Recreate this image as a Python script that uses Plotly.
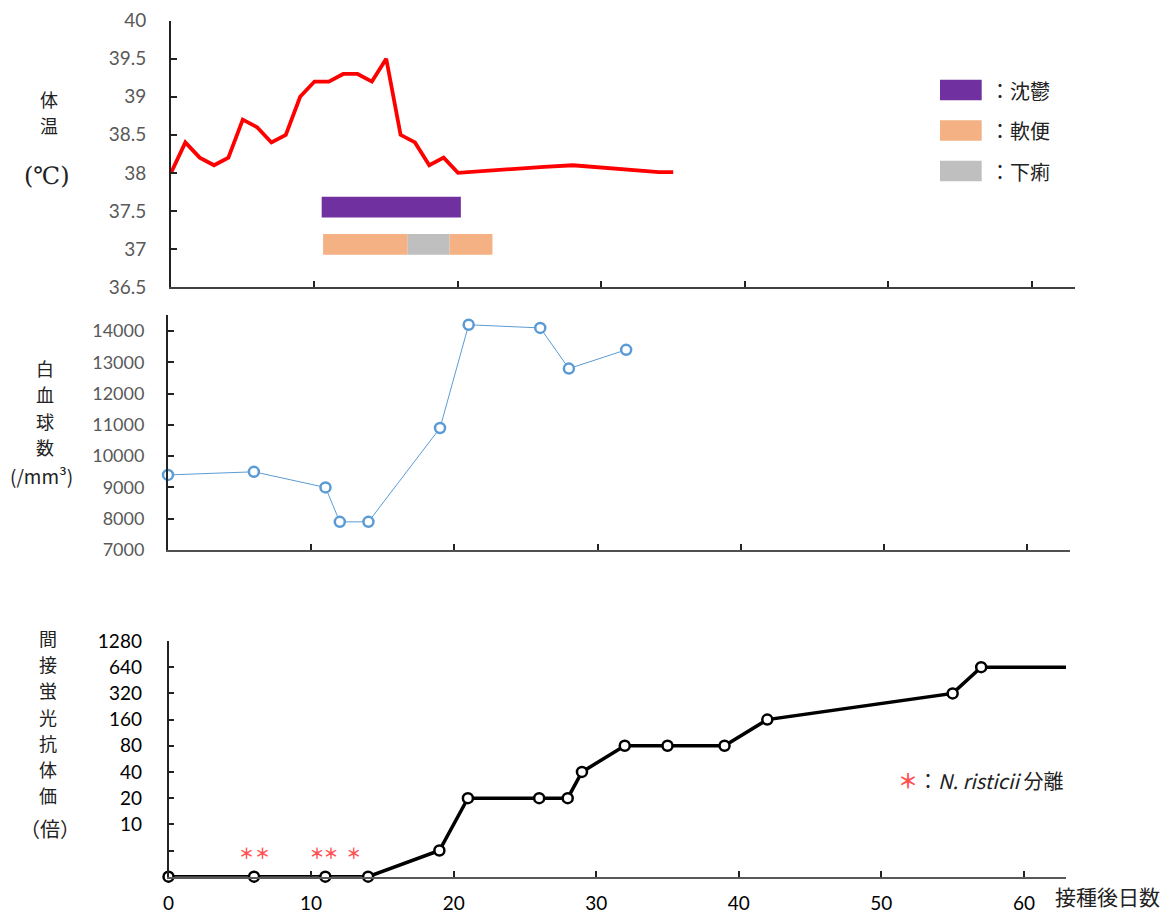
import plotly.graph_objects as go

OFFSET = 8                     # page margin the browser puts around the figure
W, H = 1170 - OFFSET, 915 - OFFSET

# ---------------- data ----------------
temp_days = [0, 1, 2, 3, 4, 5, 6, 7, 8, 9, 10, 11, 12, 13, 14, 15, 16, 17, 18, 19, 20,
             22, 24, 26, 28, 30, 32, 34, 35]
temp_values = [38.0, 38.4, 38.2, 38.1, 38.2, 38.7, 38.6, 38.4, 38.5, 39.0, 39.2, 39.2, 39.3, 39.3,
               39.2, 39.5, 38.5, 38.4, 38.1, 38.2, 38.0,
               38.03, 38.05, 38.08, 38.1, 38.07, 38.04, 38.01, 38.01]

depression_start = [10.5]
depression_end = [20.2]
soft_stool_start = [10.6, 19.4]
soft_stool_end = [16.5, 22.4]
diarrhea_start = [16.5]
diarrhea_end = [19.4]
symptom_level_depression = 37.55
symptom_level_stool = 37.06

wbc_days = [0, 6, 11, 12, 14, 19, 21, 26, 28, 32]
wbc_values = [9400, 9500, 9000, 7900, 7900, 10900, 14200, 14100, 12800, 13400]

ifa_days = [0, 6, 11, 14, 19, 21, 26, 28, 29, 32, 35, 39, 42, 55, 57, 63]
ifa_titers = [2.5, 2.5, 2.5, 2.5, 5, 20, 20, 20, 40, 80, 80, 80, 160, 320, 640, 640]  # 2.5 = negative
ifa_tick_values = [5, 10, 20, 40, 80, 160, 320, 640, 1280]
ifa_tick_labels = ["", "10", "20", "40", "80", "160", "320", "640", "1280"]

isolation_days = [5.48, 6.6, 10.42, 11.4, 13.0]
isolation_mark_level = 4.4

temp_ticks = [36.5, 37, 37.5, 38, 38.5, 39, 39.5, 40]
temp_tick_labels = ["36.5", "37", "37.5", "38", "38.5", "39", "39.5", "40"]
wbc_ticks = [7000, 8000, 9000, 10000, 11000, 12000, 13000, 14000]
wbc_tick_labels = ["7000", "8000", "9000", "10000", "11000", "12000", "13000", "14000"]
day_ticks = [0, 10, 20, 30, 40, 50, 60]
day_tick_labels = ["0", "10", "20", "30", "40", "50", "60"]

# ---------------- styling ----------------
PURPLE = "#7030A0"
ORANGE = "#F4B183"
GRAY = "#BFBFBF"
RED = "#FF0000"
BLUE = "#5B9BD5"
AST = "#FF5050"
NUM_FONT = "Lato, Liberation Sans, sans-serif"
JP_FONT = "Noto Sans CJK JP, Noto Sans, sans-serif"


def px_x(p):
    return (p - OFFSET) / W


def px_y(p):
    return 1 - (p - OFFSET) / H


fig = go.Figure()


def add_bars(starts, ends, level, color, name):
    fig.add_trace(go.Bar(
        orientation="h", y=[level] * len(starts),
        x=[e - s for s, e in zip(starts, ends)], base=starts,
        width=0.272, marker=dict(color=color, line=dict(width=0)),
        xaxis="x", yaxis="y", name=name, showlegend=False, hoverinfo="skip"))


add_bars(depression_start, depression_end, symptom_level_depression, PURPLE, "沈鬱")
add_bars(soft_stool_start, soft_stool_end, symptom_level_stool, ORANGE, "軟便")
add_bars(diarrhea_start, diarrhea_end, symptom_level_stool, GRAY, "下痢")

fig.add_trace(go.Scatter(
    x=temp_days, y=temp_values, mode="lines",
    line=dict(color=RED, width=3.8), xaxis="x", yaxis="y",
    showlegend=False, cliponaxis=False))

fig.add_trace(go.Scatter(
    x=wbc_days, y=wbc_values, mode="lines+markers",
    line=dict(color=BLUE, width=1),
    marker=dict(symbol="circle", size=10, color="white", line=dict(color=BLUE, width=2.5)),
    xaxis="x2", yaxis="y2", showlegend=False, cliponaxis=False))

fig.add_trace(go.Scatter(
    x=ifa_days, y=ifa_titers, mode="lines+markers",
    line=dict(color="black", width=3.5),
    marker=dict(symbol="circle", size=10, color="white", line=dict(color="black", width=2.5)),
    xaxis="x3", yaxis="y3", showlegend=False, cliponaxis=False))

fig.add_trace(go.Scatter(
    x=isolation_days, y=[isolation_mark_level] * len(isolation_days), mode="text",
    text=["<b>＊</b>"] * len(isolation_days), textposition="middle center",
    textfont=dict(color=AST, size=15, family=JP_FONT),
    xaxis="x3", yaxis="y3", showlegend=False, cliponaxis=False))

common_x = dict(showgrid=False, zeroline=False, showline=True, ticks="inside", automargin=False,
                tickvals=day_ticks, ticktext=day_tick_labels,
                ticklen=6, tickwidth=1.5, tickcolor="#222")
common_y = dict(showgrid=False, zeroline=False, showline=True, automargin=False,
                ticks="inside", ticklen=6, tickwidth=1.5, tickcolor="#222")

fig.update_layout(
    width=W, height=H, margin=dict(l=0, r=0, t=0, b=0, autoexpand=False),
    paper_bgcolor="white", plot_bgcolor="white", barmode="overlay",
    xaxis=dict(domain=[px_x(171), px_x(1075)], range=[0, 63.0], anchor="y",
               showticklabels=False, linecolor="#404040", linewidth=2, **common_x),
    yaxis=dict(domain=[px_y(287), px_y(20.7)], range=[36.5, 40], anchor="x",
               linecolor="#222", linewidth=2,
               tickvals=temp_ticks, ticktext=temp_tick_labels,
               tickfont=dict(family=NUM_FONT, size=19, color="#595959"), ticklabelstandoff=19,
               **common_y),
    xaxis2=dict(domain=[px_x(168), px_x(1070)], range=[0, 63.0], anchor="y2",
                showticklabels=False, linecolor="#505050", linewidth=2, **common_x),
    yaxis2=dict(domain=[px_y(550), px_y(315.4)], range=[7000, 14500], anchor="x2",
                linecolor="#222", linewidth=2,
                tickvals=wbc_ticks, ticktext=wbc_tick_labels,
                tickfont=dict(family=NUM_FONT, size=18, color="#595959"), ticklabelstandoff=18,
                **common_y),
    xaxis3=dict(domain=[px_x(168.5), px_x(1066)], range=[0, 62.95], anchor="y3",
                showticklabels=True, linecolor="#595959", linewidth=1.5,
                tickfont=dict(family=NUM_FONT, size=19, color="black"), ticklabelstandoff=9,
                **common_x),
    yaxis3=dict(domain=[px_y(876.7), px_y(641)], type="log",
                range=[0.39794, 3.10721], anchor="x3",
                linecolor="#222", linewidth=1.5,
                tickvals=ifa_tick_values, ticktext=ifa_tick_labels,
                tickfont=dict(family=NUM_FONT, size=19, color="black"), ticklabelstandoff=21,
                **common_y),
)

annotations = []


def add_text(text, x, y, size, color="#222", family=JP_FONT, xanchor="center"):
    annotations.append(dict(text=text, x=px_x(x), y=px_y(y), xref="paper", yref="paper",
                            showarrow=False, xanchor=xanchor, yanchor="middle",
                            font=dict(size=size, color=color, family=family)))


def add_vertical(chars, x, y0, step, size):
    for i, ch in enumerate(chars):
        add_text(ch, x, y0 + i * step, size)


# vertical axis titles
add_vertical("体温", 49, 99, 26.3, 18)
add_text("(℃)", 47, 176, 24, family="DejaVu Serif, Liberation Serif, serif")

add_vertical("白血球数", 45, 368, 26.3, 18)
add_text("(/mm³)", 41, 475, 19)

add_vertical("間接蛍光抗体価", 48, 638, 26.2, 18)
add_text("（倍）", 50, 828, 20)

add_text("接種後日数", 1107, 896, 21)

# symptom legend
legend_items = [("：沈鬱", PURPLE, 90), ("：軟便", ORANGE, 130.5), ("：下痢", GRAY, 171)]
shapes = []
for label, color, yc in legend_items:
    shapes.append(dict(type="rect", xref="paper", yref="paper",
                       x0=px_x(940), x1=px_x(981.7), y0=px_y(yc + 10.3), y1=px_y(yc - 10.3),
                       fillcolor=color, line=dict(width=0)))
    add_text(label, 988, yc, 20, xanchor="left")

# isolation legend
add_text(f"<span style='color:{AST}'><b>＊</b></span>：<i>N. risticii</i> 分離", 896, 780, 20,
         xanchor="left")

fig.update_layout(annotations=annotations, shapes=shapes)

fig.write_html("out.html")
